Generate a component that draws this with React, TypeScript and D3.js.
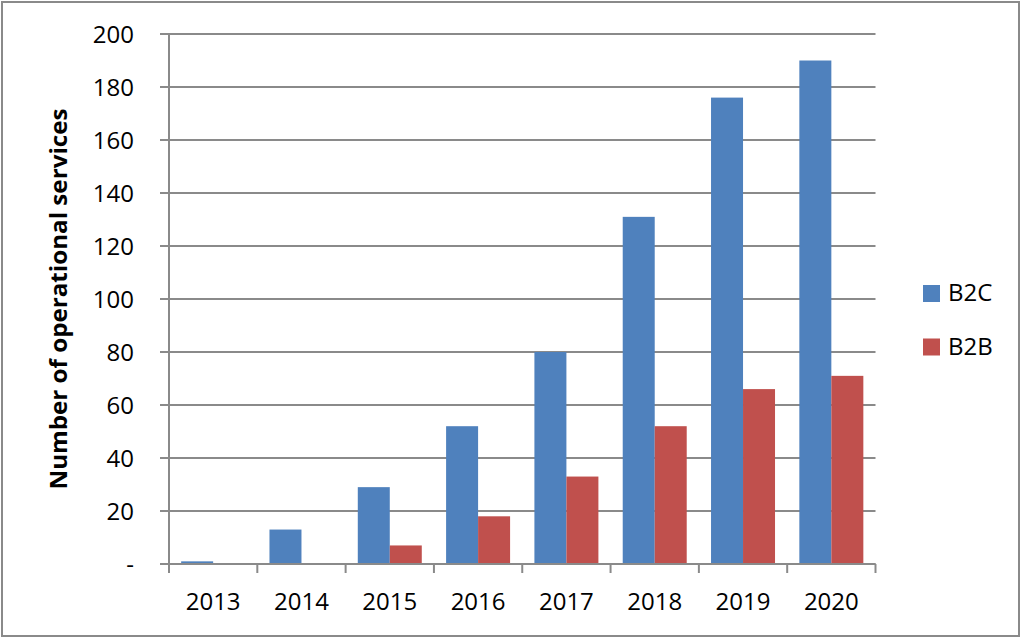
import React from "react";
import * as d3 from "d3";

const years = ["2013", "2014", "2015", "2016", "2017", "2018", "2019", "2020"];
const b2c = [1, 13, 29, 52, 80, 131, 176, 190];
const b2b = [0, 0, 7, 18, 33, 52, 66, 71];
const seriesNames = ["B2C", "B2B"];
const seriesColors = ["#4F81BD", "#C0504D"];
const yTicks = [0, 20, 40, 60, 80, 100, 120, 140, 160, 180, 200];
const yLabel = "Number of operational services";

const W = 1024;
const H = 639;
const left = 169;
const right = 875.5;
const top = 34;
const bottom = 564;
const gridColor = "#8a8a8a";
const font = "'Open Sans', sans-serif";

export default function App() {
  const x = d3.scaleBand<string>().domain(years).range([left, right]).paddingInner(0).paddingOuter(0);
  const inner = d3.scaleBand<string>().domain(seriesNames).range([0, x.bandwidth()]).paddingInner(0).paddingOuter(0.38);
  const y = d3.scaleLinear().domain([0, 200]).range([bottom, top]);
  const series = [b2c, b2b];

  return (
    <svg width={W} height={H} style={{ position: "absolute", left: 0, top: 0 }} fontFamily={font}>
      <rect x={0} y={0} width={W} height={H} fill="#fff" />
      <rect x={2} y={2} width={1017} height={634} fill="none" stroke="#8a8a8a" strokeWidth={2} />
      {yTicks.map((t) => (
        <g key={t}>
          <line x1={left - 9} x2={right} y1={y(t)} y2={y(t)} stroke={gridColor} strokeWidth={2} />
          <text x={134} y={y(t)} dy="0.36em" textAnchor="end" fontSize={24} fill="#000">
            {t === 0 ? "-" : t}
          </text>
        </g>
      ))}
      {series.map((vals, si) =>
        years.map((yr, i) => {
          const v = vals[i];
          if (v <= 0) return null;
          return (
            <rect
              key={si + "-" + yr}
              x={(x(yr) as number) + (inner(seriesNames[si]) as number)}
              y={y(v)}
              width={inner.bandwidth()}
              height={y(0) - y(v)}
              fill={seriesColors[si]}
            />
          );
        })
      )}
      <line x1={left} x2={left} y1={top} y2={bottom} stroke={gridColor} strokeWidth={2} />
      <line x1={left} x2={right} y1={bottom} y2={bottom} stroke={gridColor} strokeWidth={2} />
      {years.map((yr) => (
        <line key={"t" + yr} x1={x(yr)} x2={x(yr)} y1={bottom} y2={bottom + 9} stroke={gridColor} strokeWidth={2} />
      ))}
      <line x1={right} x2={right} y1={bottom} y2={bottom + 9} stroke={gridColor} strokeWidth={2} />
      {years.map((yr) => (
        <text key={"l" + yr} x={(x(yr) as number) + x.bandwidth() / 2} y={610} textAnchor="middle" fontSize={24} fill="#000">
          {yr}
        </text>
      ))}
      <text
        transform={`translate(67, ${(top + bottom) / 2}) rotate(-90)`}
        textAnchor="middle"
        fontSize={24}
        fontWeight="bold"
        textLength={381}
        lengthAdjust="spacingAndGlyphs"
        fill="#000"
      >
        {yLabel}
      </text>
      {seriesNames.map((n, i) => (
        <g key={n} transform={`translate(923, ${285 + i * 53.5})`}>
          <rect x={0} y={0} width={17} height={17} fill={seriesColors[i]} />
          <text x={25} y={16} fontSize={24} fill="#000">
            {n}
          </text>
        </g>
      ))}
    </svg>
  );
}
